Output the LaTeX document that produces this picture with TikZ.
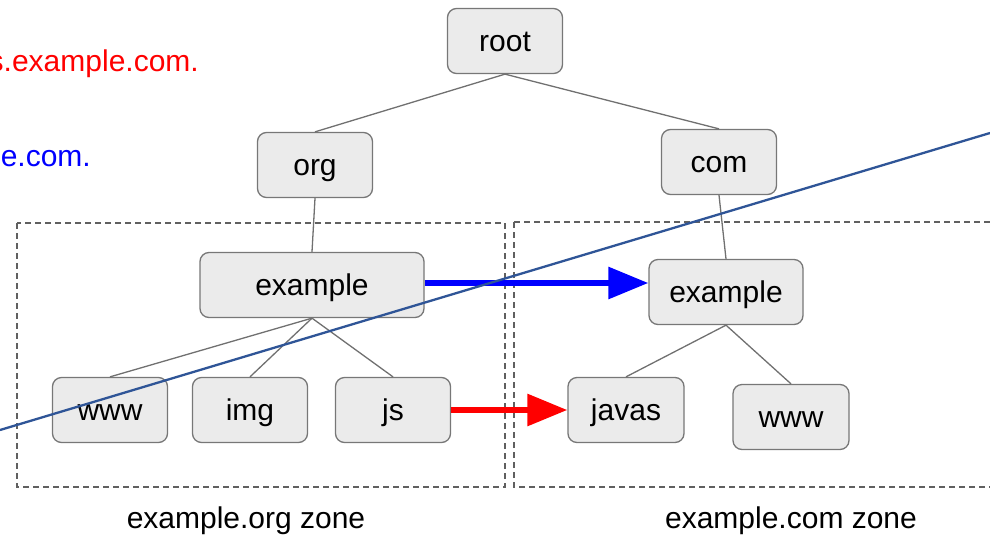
\documentclass[tikz,border=0pt]{standalone}
\usepackage{fontspec}
\setmainfont{Liberation Sans}
\usetikzlibrary{arrows.meta}
\definecolor{boxfill}{HTML}{EBEBEB}
\definecolor{boxline}{HTML}{777777}
\definecolor{edgecol}{HTML}{707070}
\definecolor{zonecol}{HTML}{606060}
\definecolor{slash}{HTML}{2F5597}
\definecolor{myblue}{HTML}{0000FF}
\definecolor{myred}{HTML}{FF0000}
\tikzset{
  dnsbox/.style={draw=boxline, fill=boxfill, line width=1.3pt, rounded corners=9pt,
    minimum height=65pt, font=\fontsize{30}{33}\selectfont, inner sep=0pt,
    text height=26pt, text depth=6pt},
  treeedge/.style={draw=edgecol, line width=1.3pt},
  zonebox/.style={draw=zonecol, line width=1.6pt, dash pattern=on 6pt off 4pt},
  bigarrow/.style={line width=6pt, -{Triangle[length=40pt,width=31pt]}},
  lbl/.style={font=\fontsize{30}{33}\selectfont, inner sep=0pt}
}
\begin{document}
\begin{tikzpicture}[x=1pt,y=-1pt]
\useasboundingbox (0,0) rectangle (990,536);
\clip (0,0) rectangle (990,536);
% zone boxes
\draw[zonebox] (17,223) rectangle (505,487);
\draw[zonebox] (514,222) -- (995,222) (995,487) -- (514,487) -- (514,222);
% nodes
\node[dnsbox, minimum width=115pt] (root) at (505,41) {root};
\node[dnsbox, minimum width=115pt] (org) at (315,165) {org};
\node[dnsbox, minimum width=115pt] (com) at (719,162) {com};
\node[dnsbox, minimum width=224pt] (exorg) at (312,285) {example};
\node[dnsbox, minimum width=154pt] (excom) at (726,292) {example};
\node[dnsbox, minimum width=115pt] (www1) at (110,410) {www};
\node[dnsbox, minimum width=115pt] (img) at (250,410) {img};
\node[dnsbox, minimum width=115pt] (js) at (393,410) {js};
\node[dnsbox, minimum width=116pt] (javas) at (626,410) {javas};
\node[dnsbox, minimum width=116pt] (www2) at (791,417) {www};
% tree edges
\draw[treeedge] (root.south) -- (org.north);
\draw[treeedge] (root.south) -- (com.north);
\draw[treeedge] (org.south) -- (exorg.north);
\draw[treeedge] (com.south) -- (excom.north);
\draw[treeedge] (exorg.south) -- (www1.north);
\draw[treeedge] (exorg.south) -- (img.north);
\draw[treeedge] (exorg.south) -- (js.north);
\draw[treeedge] (excom.south) -- (javas.north);
\draw[treeedge] (excom.south) -- (www2.north);
% arrows
\draw[bigarrow, myblue] (exorg.east |- 0,283) -- (excom.west |- 0,283);
\draw[bigarrow, myred] (js.east) -- (javas.west);
% diagonal line
\coordinate (s1) at (0,430);
\coordinate (s2) at (990,133);
\draw[slash, line width=2.3pt] (s1) -- (s2);
% labels
\node[lbl, anchor=east, text=myred] (redtxt) at (199,64) {s.example.com.};
\node[lbl, anchor=east, text=myblue] (bluetxt) at (91,156) {le.com.};
\node[lbl] (zorg) at (246,521) {example.org zone};
\node[lbl] (zcom) at (791,521) {example.com zone};
\end{tikzpicture}
\end{document}
